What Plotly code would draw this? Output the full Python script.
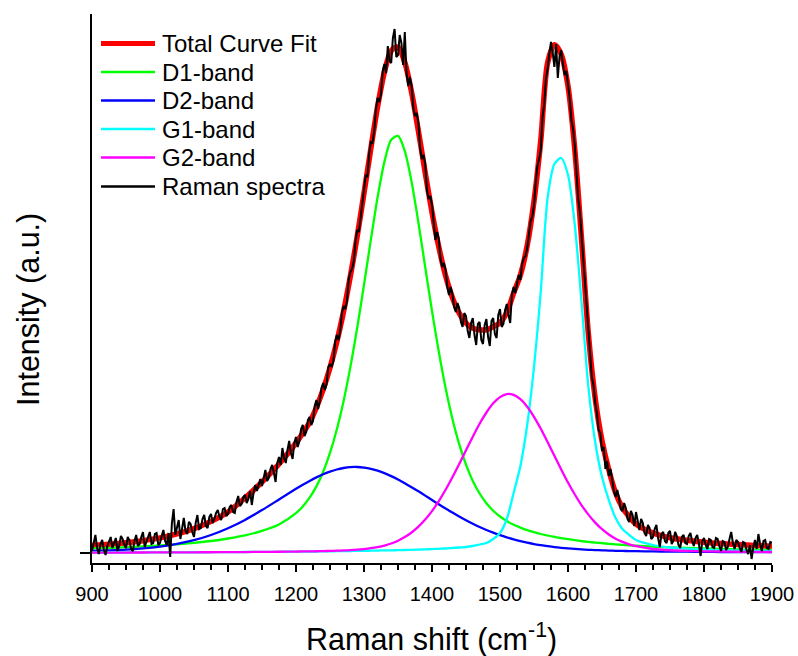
import plotly.graph_objects as go

# ---------------- data ----------------
fit_x = [900, 925, 950, 975, 1000, 1025, 1050, 1075, 1100, 1125, 1150, 1175, 1200,
         1210, 1220, 1230, 1240, 1250, 1260, 1270, 1280, 1290, 1300,
         1310, 1320, 1330, 1340, 1350, 1360, 1370, 1380, 1390, 1400,
         1410, 1420, 1430, 1440, 1450, 1460, 1470, 1480, 1490, 1500,
         1510, 1520, 1530, 1540, 1550, 1560, 1570, 1580, 1590, 1600,
         1610, 1620, 1630, 1640, 1650, 1660, 1670, 1680, 1690, 1700,
         1725, 1750, 1775, 1800, 1825, 1850, 1875, 1900]

total_fit = [7.7, 8.7, 10.2, 12.3, 15.1, 19.1, 24.4, 31.6, 41.1, 55, 71, 89, 110,
             120, 130.5, 145.5, 163.6, 185.3, 211.1, 241.6, 276.9, 316.6, 359.8,
             404.1, 446.4, 481.0, 502.3, 505.9, 490.6, 460.6, 421.9, 380.4, 340.8,
             306.0, 277.2, 255.4, 239.8, 229.8, 224.7, 223.2, 223.3, 226.3, 230.2,
             240.5, 259.9, 278.0, 307.5, 351.9, 413.0, 490.2, 508.2, 498.7, 466.9,
             403.4, 313.2, 218.7, 154.7, 112.3, 83.1, 60.1, 45.3, 36.2, 28.9,
             20.0, 15.3, 12.7, 10.8, 9.4, 8.4, 7.5, 6.8]

d1_band = [4.6, 5.1, 5.8, 6.6, 7.5, 8.7, 10.2, 12.0, 14.5, 17.6, 22.1, 28.5, 39.8,
           46.6, 55.3, 66.6, 81.3, 100.1, 123.5, 152.1, 186.1, 225.2, 268.2,
           312.8, 355.7, 391.1, 413.2, 417.1, 401.9, 371.1, 330.5, 286.0, 242.0,
           201.2, 165.0, 134.3, 108.8, 88.3, 72.1, 59.5, 49.8, 42.3, 36.5,
           32.0, 28.2, 25.4, 22.9, 20.8, 19.0, 17.5, 16.1, 14.9, 13.8,
           12.8, 11.9, 11.1, 10.4, 9.8, 9.2, 8.6, 8.1, 7.7, 7.3,
           6.4, 5.6, 5.0, 4.5, 4.0, 3.6, 3.3, 3.0]

d2_band = [2.2, 2.7, 3.4, 4.6, 6.4, 9.1, 12.8, 18.0, 24.8, 33.1, 42.9, 53.5, 64.2,
           68.3, 72.1, 75.6, 78.8, 81.4, 83.5, 85.0, 85.9, 86.0, 85.4,
           84.2, 82.3, 79.9, 76.9, 73.6, 69.8, 65.8, 61.7, 57.4, 53.0,
           48.7, 44.5, 40.4, 36.5, 32.8, 29.3, 26.0, 23.0, 20.3, 17.8,
           15.6, 13.6, 11.8, 10.3, 8.9, 7.8, 6.8, 5.9, 5.2, 4.6,
           4.1, 3.6, 3.2, 2.9, 2.7, 2.4, 2.2, 2.1, 1.9, 1.8,
           1.6, 1.4, 1.3, 1.1, 1.0, 1.0, 0.9, 0.8]

g1_band = [0.5, 0.5, 0.55, 0.6, 0.65, 0.7, 0.75, 0.8, 0.9, 1.0, 1.1, 1.2, 1.35,
           1.4, 1.45, 1.5, 1.6, 1.7, 1.8, 1.9, 2.0, 2.1, 2.2,
           2.3, 2.45, 2.6, 2.7, 2.85, 3.0, 3.2, 3.4, 3.6, 3.9,
           4.2, 4.5, 5.0, 5.5, 6.0, 7.0, 8.5, 10, 14, 20,
           34, 60, 87, 128, 186, 262, 355, 389, 395, 378,
           328, 250, 166, 111, 76, 53, 35, 24, 18, 13,
           8, 5.5, 4.3, 3.5, 2.9, 2.5, 2.2, 2.0]

g2_band = [0.4, 0.43, 0.47, 0.52, 0.57, 0.62, 0.69, 0.77, 0.86, 0.97, 1.1, 1.27, 1.46,
           1.55, 1.65, 1.77, 1.89, 2.1, 2.3, 2.56, 2.9, 3.34, 3.95,
           4.77, 5.9, 7.4, 9.5, 12.3, 15.9, 20.5, 26.3, 33.4, 41.9,
           51.9, 63.2, 75.7, 89.0, 102.7, 116.3, 129.2, 140.5, 149.7, 155.9,
           158.9, 158.1, 153.8, 146.3, 136.2, 124.2, 110.9, 97.2, 83.6, 70.5,
           58.5, 47.7, 38.4, 30.4, 23.8, 18.5, 14.3, 11.1, 8.6, 6.8,
           4.0, 2.75, 2.1, 1.7, 1.5, 1.27, 1.1, 0.98]

# measured spectrum, one sample every 2.5 cm-1 from 900 to 1900
raman_x = [900 + 2.5 * i for i in range(401)]
raman_y = [
    # 900 - 997.5
    2, 12, 18, 5, -1, 9, 13, 3, -2, 7, 12, 16, 5, 10, 15, 2, 7, 17, 14, 8,
    5, 16, 13, 4, 2, 12, 18, 7, 9, 16, 21, 6, 11, 17, 21, 9, 10, 19, 20, 8,
    # 1000 - 1097.5
    10, 17, 23, 12, 8, 20, -4, 30, 44, 18, 27, 33, 14, 26, 35, 22, 19, 31, 29, 21,
    16, 30, 38, 24, 25, 34, 38, 27, 25, 36, 39, 30, 34, 40, 43, 36, 33, 44, 45, 37,
    # 1100 - 1197.5
    39, 46, 48, 41, 40, 51, 57, 47, 49, 56, 58, 50, 54, 62, 48, 60, 68, 62, 69, 74,
    67, 76, 83, 72, 75, 84, 88, 80, 71, 90, 96, 88, 105, 95, 90, 103, 112, 100, 94, 110,
    # 1200 - 1297.5
    116, 106, 112, 124, 128, 117, 121, 133, 136, 128, 132, 147, 153, 144, 152, 165, 170, 163, 169, 186,
    189, 186, 192, 211, 218, 213, 222, 240, 247, 244, 252, 274, 281, 284, 292, 312, 323, 321, 335, 355,
    # 1300 - 1397.5
    365, 378, 376, 399, 411, 410, 422, 444, 455, 451, 459, 482, 489, 480, 507, 492, 490, 515, 524, 496,
    498, 518, 510, 488, 521, 480, 467, 476, 467, 445, 437, 440, 430, 405, 394, 398, 389, 363, 354, 357,
    # 1400 - 1497.5
    348, 327, 313, 321, 314, 294, 286, 290, 283, 266, 258, 266, 259, 246, 241, 250, 245, 231, 226, 240,
    237, 222, 215, 230, 235, 218, 208, 229, 231, 213, 209, 228, 234, 216, 207, 232, 235, 219, 215, 238,
    # 1500 - 1597.5
    244, 226, 229, 243, 249, 238, 230, 258, 266, 260, 271, 278, 273, 289, 295, 297, 305, 322, 332, 336,
    348, 370, 387, 394, 403, 436, 448, 474, 484, 499, 511, 500, 486, 509, 475, 496, 503, 489, 478, 482,
    # 1600 - 1697.5
    470, 455, 433, 424, 407, 380, 354, 341, 318, 286, 262, 246, 223, 197, 176, 168, 150, 140, 123, 120,
    102, 106, 84, 92, 77, 84, 73, 62, 56, 63, 55, 44, 42, 50, 45, 34, 31, 42, 38, 27,
    # 1700 - 1797.5
    41, 30, 23, 34, 30, 20, 17, 28, 25, 14, 16, 24, 28, 15, 6, 19, 21, 12, 10, 20,
    22, 9, 12, 21, 17, 8, 5, 16, 18, 10, 9, 17, 20, 12, 7, 15, 18, 9, -3, 12,
    # 1800 - 1900
    15, 8, 4, 14, 13, 6, 5, 15, 14, 7, 2, 12, 11, 3, 6, 14, 21, 10, 4, 13,
    11, 5, 1, 11, 10, 3, -1, 8, -6, 6, 13, 4, 19, 9, 2, 12, 13, 5, 4, 11,
    10,
]

series_names = ["Total Curve Fit", "D1-band", "D2-band", "G1-band", "G2-band", "Raman spectra"]
series_colors = ["#FF0000", "#00FF00", "#0000FF", "#00FFFF", "#FF00FF", "#000000"]
series_widths = [5.5, 2.3, 2.3, 2.3, 2.3, 2.0]

x_ticks = [900, 1000, 1100, 1200, 1300, 1400, 1500, 1600, 1700, 1800, 1900]

# ---------------- figure ----------------
FONT = "Liberation Sans, Arial, sans-serif"
W, H = 798, 656
L, R, T, B = 92, 26, 14, 93
PW, PH = W - L - R, H - T - B


def px2paper(px, py):
    return (px - L) / PW, (H - B - py) / PH


fig = go.Figure()
fit_series = [total_fit, d1_band, d2_band, g1_band, g2_band]
for i, ys in enumerate(fit_series):
    fig.add_trace(go.Scatter(x=fit_x, y=ys, mode="lines", name=series_names[i],
                             line=dict(color=series_colors[i], width=series_widths[i],
                                       shape="spline", smoothing=0.8),
                             showlegend=False, hoverinfo="skip"))
fig.add_trace(go.Scatter(x=raman_x, y=raman_y, mode="lines", name=series_names[5],
                         line=dict(color=series_colors[5], width=series_widths[5]),
                         showlegend=False, hoverinfo="skip"))

# manual legend (long line samples like the reference)
shapes = []
annotations = []
row_y = [43.5, 72, 100.5, 129, 157.5, 186.5]
for i, name in enumerate(series_names):
    x0, y0 = px2paper(101, row_y[i])
    x1, _ = px2paper(155, row_y[i])
    shapes.append(dict(type="line", xref="paper", yref="paper", x0=x0, x1=x1, y0=y0, y1=y0,
                       line=dict(color=series_colors[i], width=5 if i == 0 else 2.3)))
    tx, _ = px2paper(160, row_y[i])
    annotations.append(dict(text=name, xref="paper", yref="paper", x=tx, y=y0,
                            xanchor="left", yanchor="middle", showarrow=False,
                            font=dict(family=FONT, size=24, color="black")))

# axis titles
xt, yt = px2paper(431, 637)
annotations.append(dict(text="Raman shift (cm<sup>-1</sup>)", xref="paper", yref="paper",
                        x=xt, y=yt, xanchor="center", yanchor="middle", showarrow=False,
                        font=dict(family=FONT, size=30.5, color="black")))
xt, yt = px2paper(28, 310)
annotations.append(dict(text="Intensity (a.u.)", xref="paper", yref="paper",
                        x=xt, y=yt, xanchor="center", yanchor="middle", showarrow=False,
                        textangle=-90, font=dict(family=FONT, size=30.5, color="black")))

fig.update_layout(
    template="none",
    width=W, height=H,
    margin=dict(l=L, r=R, t=T, b=B, pad=0, autoexpand=False),
    paper_bgcolor="white", plot_bgcolor="white",
    font=dict(family=FONT, color="black"),
    shapes=shapes, annotations=annotations,
    showlegend=False,
    xaxis=dict(range=[900, 1900], automargin=False, showline=True, linecolor="black", linewidth=2,
               ticks="outside", ticklen=7, tickwidth=2, tickcolor="black",
               tickmode="array", tickvals=x_ticks,
               minor=dict(ticks="outside", ticklen=5, tickwidth=1.5, tickcolor="black",
                          dtick=25, tick0=900, showgrid=False),
               showgrid=False, zeroline=False, ticklabelstandoff=5,
               tickfont=dict(family=FONT, size=20, color="black")),
    yaxis=dict(range=[-10, 539], automargin=False, showline=True, linecolor="black", linewidth=2,
               ticks="outside", ticklen=10, tickwidth=2, tickcolor="black",
               tickmode="array", tickvals=[0], showticklabels=False,
               showgrid=False, zeroline=False),
)

fig.write_html("out.html")
